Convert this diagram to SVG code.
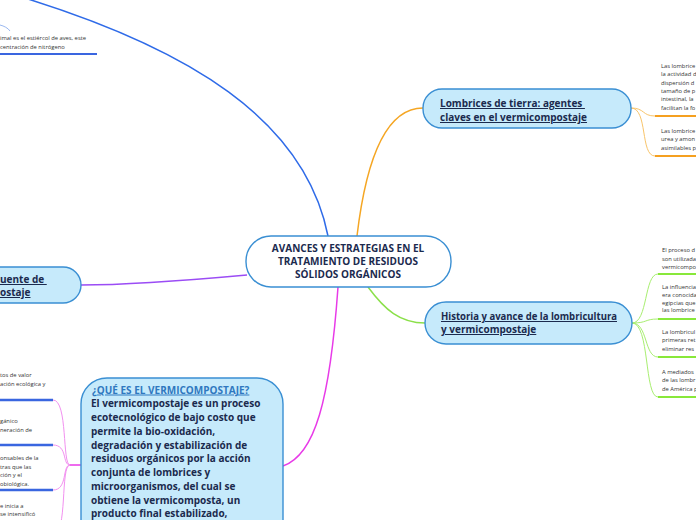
<svg xmlns="http://www.w3.org/2000/svg" width="696" height="520" viewBox="0 0 696 520">
<style>
.node{fill:#c6eafb;stroke:#3a8fd3;stroke-width:1.4}
.center{fill:#ffffff;stroke:#3a8fd3;stroke-width:1.4}
.t{font-family:"Open Sans","Noto Sans",sans-serif;font-weight:700;fill:#1b2a4e}
.tc{font-size:10px}
.tn{font-size:10px;text-decoration:underline}
.tb{font-size:10px}
.h{font-size:10px;fill:#2f78c0;text-decoration:underline}
.s{font-family:"Open Sans","Noto Sans",sans-serif;font-size:5.8px;fill:#333333}
.c{fill:none}
</style>
<rect width="696" height="520" fill="#ffffff"/>
<g id="connectors">
<path class="c" d="M328,236 C305,120 190,48 15,-5" stroke="#2f6be8" stroke-width="1.5"/>
<path class="c" d="M0,25 C4,26 8,28 10,31" stroke="#9ab8f0" stroke-width="1"/>
<line x1="0" y1="54" x2="97" y2="54" stroke="#3a66e0" stroke-width="2"/>
<path class="c" d="M357,236 C366,160 385,108 423,108" stroke="#f5a623" stroke-width="1.5"/>
<path class="c" d="M631,108 C645,108 642,116 655,116" stroke="#f8c46a" stroke-width="1"/>
<path class="c" d="M631,108 C648,108 640,156 655,156" stroke="#f8c46a" stroke-width="1"/>
<line x1="655" y1="116" x2="696" y2="116" stroke="#f5a020" stroke-width="2"/>
<line x1="655" y1="156" x2="696" y2="156" stroke="#f5a020" stroke-width="2"/>
<path class="c" d="M368,287 C385,310 400,323 425,323" stroke="#8be04a" stroke-width="1.5"/>
<path class="c" d="M632,323 C648,323 644,274 658,274" stroke="#a8ee70" stroke-width="1"/>
<path class="c" d="M632,323 C648,323 644,319 658,319" stroke="#a8ee70" stroke-width="1"/>
<path class="c" d="M632,323 C648,323 644,357 658,357" stroke="#a8ee70" stroke-width="1"/>
<path class="c" d="M632,323 C650,323 644,397 658,397" stroke="#a8ee70" stroke-width="1"/>
<line x1="658" y1="274" x2="696" y2="274" stroke="#88e83a" stroke-width="2"/>
<line x1="658" y1="319" x2="696" y2="319" stroke="#88e83a" stroke-width="2"/>
<line x1="658" y1="357" x2="696" y2="357" stroke="#88e83a" stroke-width="2"/>
<line x1="658" y1="397" x2="696" y2="397" stroke="#88e83a" stroke-width="2"/>
<path class="c" d="M247,275 C170,282 120,285 81,285" stroke="#9b4cf5" stroke-width="1.5"/>
<path class="c" d="M338,287 C330,400 315,455 283,466" stroke="#e83ae8" stroke-width="1.5"/>
<path class="c" d="M81,465 L70,465" stroke="#e83ae8" stroke-width="1.5"/>
<path class="c" d="M70,465 C62,465 68,400 53,400" stroke="#f290f0" stroke-width="1"/>
<path class="c" d="M70,465 C62,465 68,445 53,445" stroke="#f290f0" stroke-width="1"/>
<path class="c" d="M70,465 C62,465 68,490 53,490" stroke="#f290f0" stroke-width="1"/>
<path class="c" d="M70,465 C60,465 68,535 53,535" stroke="#f290f0" stroke-width="1"/>
<line x1="0" y1="400" x2="53" y2="400" stroke="#3a66e0" stroke-width="2.5"/>
<line x1="0" y1="445" x2="53" y2="445" stroke="#3a66e0" stroke-width="2.5"/>
<line x1="0" y1="490" x2="53" y2="490" stroke="#3a66e0" stroke-width="2.5"/>
</g>
<g id="node-center">
<rect class="center" x="246" y="236" width="205" height="51" rx="25"/>
<text class="t tc" text-anchor="middle"><tspan x="348" y="252">AVANCES Y ESTRATEGIAS EN EL</tspan><tspan x="348" y="265">TRATAMIENTO DE RESIDUOS</tspan><tspan x="348" y="278">SÓLIDOS ORGÁNICOS</tspan></text>
</g>
<g id="node-lombrices">
<rect class="node" x="423" y="89" width="208" height="39" rx="19"/>
<text class="t tn"><tspan x="440" y="107">Lombrices de tierra: agentes </tspan><tspan x="440" y="121">claves en el vermicompostaje</tspan></text>
</g>
<g id="sub-lombrices-1">
<text class="s"><tspan x="661" y="68">Las lombrice</tspan><tspan x="661" y="76.3">la actividad d</tspan><tspan x="661" y="84.6">dispersión d</tspan><tspan x="661" y="92.9">tamaño de p</tspan><tspan x="661" y="101.2">intestinal, la</tspan><tspan x="661" y="109.5">facilitan la fo</tspan></text>
</g>
<g id="sub-lombrices-2">
<text class="s"><tspan x="661" y="133">Las lombrice</tspan><tspan x="661" y="141.3">urea y amon</tspan><tspan x="661" y="149.6">asimilables p</tspan></text>
</g>
<g id="node-historia">
<rect class="node" x="425" y="302" width="207" height="42" rx="21"/>
<text class="t tn"><tspan x="441" y="320" textLength="176" lengthAdjust="spacingAndGlyphs">Historia y avance de la lombricultura</tspan><tspan x="441" y="333">y vermicompostaje</tspan></text>
</g>
<g id="sub-historia-1">
<text class="s"><tspan x="662" y="252">El proceso d</tspan><tspan x="662" y="260.5">son utilizada</tspan><tspan x="662" y="269">vermicompo</tspan></text>
</g>
<g id="sub-historia-2">
<text class="s"><tspan x="662" y="289">La influencia</tspan><tspan x="662" y="296.8">era conocida</tspan><tspan x="662" y="304.6">egipcias que</tspan><tspan x="662" y="312.4">las lombrice</tspan></text>
</g>
<g id="sub-historia-3">
<text class="s"><tspan x="662" y="334">La lombricul</tspan><tspan x="662" y="342.4">primeras ret</tspan><tspan x="662" y="350.8">eliminar res</tspan></text>
</g>
<g id="sub-historia-4">
<text class="s"><tspan x="662" y="374">A mediados</tspan><tspan x="662" y="382.4">de las lombr</tspan><tspan x="662" y="390.8">de América p</tspan></text>
</g>
<g id="node-fuente">
<rect class="node" x="-60" y="267" width="141" height="36" rx="18"/>
<text class="t tn"><tspan x="0" y="283">uente de </tspan><tspan x="0" y="296">ostaje</tspan></text>
</g>
<g id="sub-top-left">
<text class="s"><tspan x="0" y="40">imal es el estiércol de aves, este</tspan><tspan x="0" y="49">centración de nitrógeno</tspan></text>
</g>
<g id="node-que-es">
<rect class="node" x="81" y="378" width="202" height="200" rx="26"/>
<text class="t h" x="92" y="393.5">¿QUÉ ES EL VERMICOMPOSTAJE?</text>
<text class="t tb"><tspan x="91" y="407.3">El vermicompostaje es un proceso</tspan><tspan x="91" y="421">ecotecnológico de bajo costo que</tspan><tspan x="91" y="434.8">permite la bio-oxidación,</tspan><tspan x="91" y="448.5">degradación y estabilización de</tspan><tspan x="91" y="462.3">residuos orgánicos por la acción</tspan><tspan x="91" y="476">conjunta de lombrices y</tspan><tspan x="91" y="489.8">microorganismos, del cual se</tspan><tspan x="91" y="503.5">obtiene la vermicomposta, un</tspan><tspan x="91" y="517.3">producto final estabilizado,</tspan></text>
</g>
<g id="sub-que-es-1">
<text class="s"><tspan x="0" y="377">tos de valor</tspan><tspan x="0" y="386">ación ecológica y</tspan></text>
</g>
<g id="sub-que-es-2">
<text class="s"><tspan x="0" y="423">gánico</tspan><tspan x="0" y="432">neración de</tspan></text>
</g>
<g id="sub-que-es-3">
<text class="s"><tspan x="0" y="460">onsables de la</tspan><tspan x="0" y="468.5">tras que las</tspan><tspan x="0" y="477">ción y el</tspan><tspan x="0" y="485.5">obiológica.</tspan></text>
</g>
<g id="sub-que-es-4">
<text class="s"><tspan x="0" y="508">e inicia a</tspan><tspan x="0" y="516.3">se intensificó</tspan></text>
</g>
</svg>
